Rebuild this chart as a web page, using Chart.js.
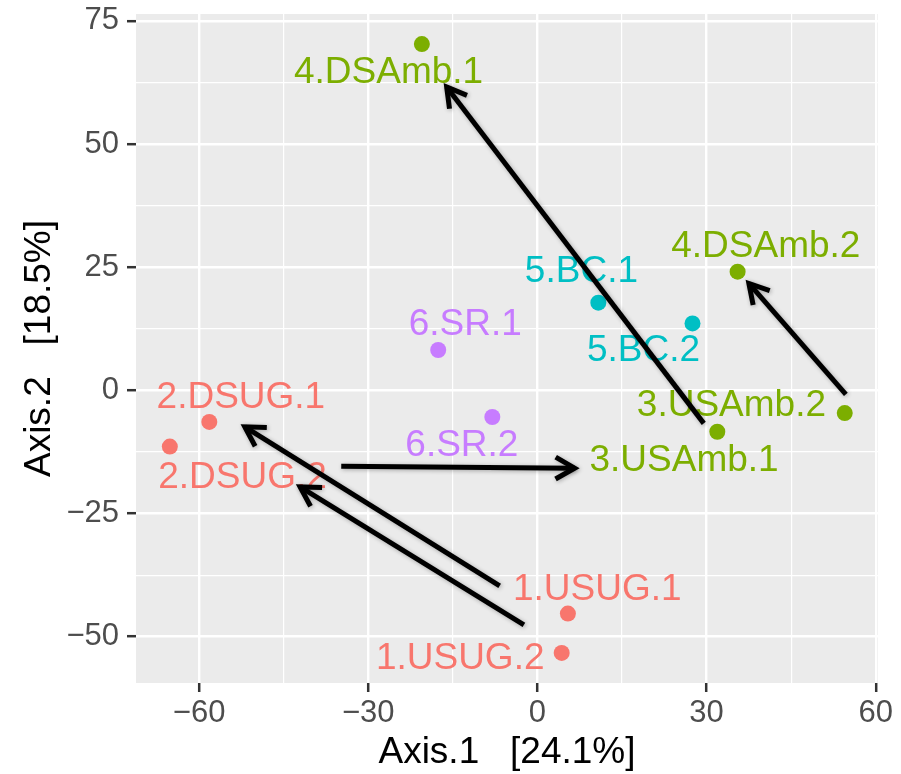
<!DOCTYPE html>
<html>
<head>
<meta charset="utf-8">
<script src="https://cdn.jsdelivr.net/npm/chart.js@4.4.1/dist/chart.umd.min.js"></script>
<style>
  html, body { margin: 0; padding: 0; background: #ffffff; }
  #wrap { width: 901px; height: 774px; }
</style>
</head>
<body>
<div id="wrap"><canvas id="pcoa-chart"></canvas></div>
<script>
// samples, ordination scores
const sampleNames = ['1.USUG.1', '1.USUG.2', '2.DSUG.1', '2.DSUG.2', '3.USAmb.1', '3.USAmb.2',
                     '4.DSAmb.1', '4.DSAmb.2', '5.BC.1', '5.BC.2', '6.SR.1', '6.SR.2'];
const axis1 = [5.4, 4.3, -58.2, -65.2, 31.9, 54.5, -20.5, 35.5, 10.8, 27.5, -17.6, -8.0];
const axis2 = [-45.3, -53.3, -6.4, -11.4, -8.4, -4.6, 70.3, 24.1, 17.8, 13.6, 8.2, -5.4];
const groupIndex = [0, 0, 0, 0, 1, 1, 1, 1, 2, 2, 3, 3];
const groupColors = ['#F8766D', '#7CAE00', '#00BFC4', '#C77CFF'];

// where the text labels sit (repelled positions)
const labelX = [10.6, -13.7, -52.6, -52.3, 26.0, 34.4, -26.4, 40.5, 7.8, 18.8, -12.8, -13.4];
const labelY = [-40.5, -54.5, -1.6, -17.7, -14.3, -3.1, 64.5, 29.2, 24.0, 8.0, 13.3, -11.2];

// arrows from upstream to downstream
const arrowX0 = [29.5, 54.7, -34.8, -6.7, -2.4];
const arrowY0 = [-6.7, -0.8, -15.4, -39.7, -47.6];
const arrowX1 = [-16.1, 37.5, 6.6, -51.9, -42.1];
const arrowY1 = [61.6, 21.7, -15.8, -7.4, -19.6];

// axis ticks
const xTicks = [-60, -30, 0, 30, 60];
const xMinor = [-45, -15, 15, 45];
const yTicks = [-50, -25, 0, 25, 50, 75];
const yMinor = [-37.5, -12.5, 12.5, 37.5, 62.5];

const FONT = "'Liberation Sans', Arial, Helvetica, sans-serif";

const panelBg = {
  id: 'panelBg',
  beforeDraw(chart) {
    const { ctx, chartArea: a } = chart;
    ctx.save();
    ctx.fillStyle = '#EBEBEB';
    ctx.fillRect(a.left, a.top, a.right - a.left, a.bottom - a.top);
    ctx.restore();
  }
};

function drawArrow(ctx, x0, y0, x1, y1) {
  const ang = Math.atan2(y1 - y0, x1 - x0);
  const len = 22, spread = Math.PI / 6;
  ctx.beginPath();
  ctx.moveTo(x0, y0);
  ctx.lineTo(x1, y1);
  ctx.stroke();
  ctx.beginPath();
  ctx.moveTo(x1 - len * Math.cos(ang - spread), y1 - len * Math.sin(ang - spread));
  ctx.lineTo(x1, y1);
  ctx.lineTo(x1 - len * Math.cos(ang + spread), y1 - len * Math.sin(ang + spread));
  ctx.stroke();
}

const labelsAndArrows = {
  id: 'labelsAndArrows',
  afterDatasetsDraw(chart) {
    const { ctx, scales: { x, y } } = chart;
    ctx.save();
    // labels
    ctx.font = '37px ' + FONT;
    ctx.textAlign = 'center';
    ctx.textBaseline = 'middle';
    sampleNames.forEach((name, i) => {
      ctx.fillStyle = groupColors[groupIndex[i]];
      ctx.fillText(name, x.getPixelForValue(labelX[i]), y.getPixelForValue(labelY[i]));
    });
    // arrows
    ctx.strokeStyle = '#000000';
    ctx.lineWidth = 5;
    ctx.lineCap = 'butt';
    ctx.lineJoin = 'miter';
    ctx.shadowColor = 'rgba(0,0,0,0.3)';
    ctx.shadowBlur = 4;
    ctx.shadowOffsetX = 1;
    ctx.shadowOffsetY = 1;
    arrowX0.forEach((v, i) => {
      drawArrow(ctx,
        x.getPixelForValue(arrowX0[i]), y.getPixelForValue(arrowY0[i]),
        x.getPixelForValue(arrowX1[i]), y.getPixelForValue(arrowY1[i]));
    });
    ctx.restore();
  }
};

function fmt(v) {
  return v < 0 ? '\u2212' + Math.abs(v) : String(v);
}

function axisOpts(major, minor, min, max, titleText, pos) {
  return {
    type: 'linear',
    position: pos,
    min: min,
    max: max,
    afterBuildTicks: (scale) => {
      scale.ticks = major.concat(minor).sort((a, b) => a - b).map(v => ({ value: v }));
    },
    afterFit: (scale) => {
      if (pos === 'left') scale.width = 136;
      else scale.height = 91;
      // keep the panel where the layout padding puts it
      scale.paddingTop = 0;
      scale.paddingBottom = 0;
      scale.paddingLeft = 0;
      scale.paddingRight = 0;
    },
    border: { display: false },
    grid: {
      color: '#FFFFFF',
      lineWidth: (c) => major.includes(c.tick.value) ? 2.4 : 1.2,
      drawTicks: true,
      tickLength: 9,
      tickWidth: 2.5,
      tickColor: (c) => major.includes(c.tick.value) ? '#333333' : 'rgba(0,0,0,0)'
    },
    ticks: {
      padding: pos === 'left' ? 8 : 3,
      color: '#4D4D4D',
      font: { family: FONT, size: 31 },
      maxRotation: 0,
      autoSkip: false,
      callback: (v) => major.includes(v) ? fmt(v) : ''
    },
    title: {
      display: true,
      text: titleText,
      color: '#000000',
      font: { family: FONT, size: 37, lineHeight: 1 },
      padding: pos === 'left' ? { top: 21, bottom: 0 } : { top: 0, bottom: 2.5 }
    }
  };
}

new Chart(document.getElementById('pcoa-chart').getContext('2d'), {
  type: 'scatter',
  data: {
    datasets: [{
      data: axis1.map((v, i) => ({ x: v, y: axis2[i] })),
      pointBackgroundColor: groupIndex.map(g => groupColors[g]),
      pointBorderWidth: 0,
      pointRadius: 8,
      pointHoverRadius: 8
    }]
  },
  options: {
    responsive: true,
    maintainAspectRatio: false,
    animation: false,
    layout: { padding: { top: 14, right: 23, left: 0, bottom: 0 } },
    plugins: { legend: { display: false }, tooltip: { enabled: false } },
    scales: {
      x: axisOpts(xTicks, xMinor, -71.2, 60.4, 'Axis.1   [24.1%]', 'bottom'),
      y: axisOpts(yTicks, yMinor, -59.4, 76.4, 'Axis.2   [18.5%]', 'left')
    }
  },
  plugins: [panelBg, labelsAndArrows]
});
</script>
</body>
</html>
